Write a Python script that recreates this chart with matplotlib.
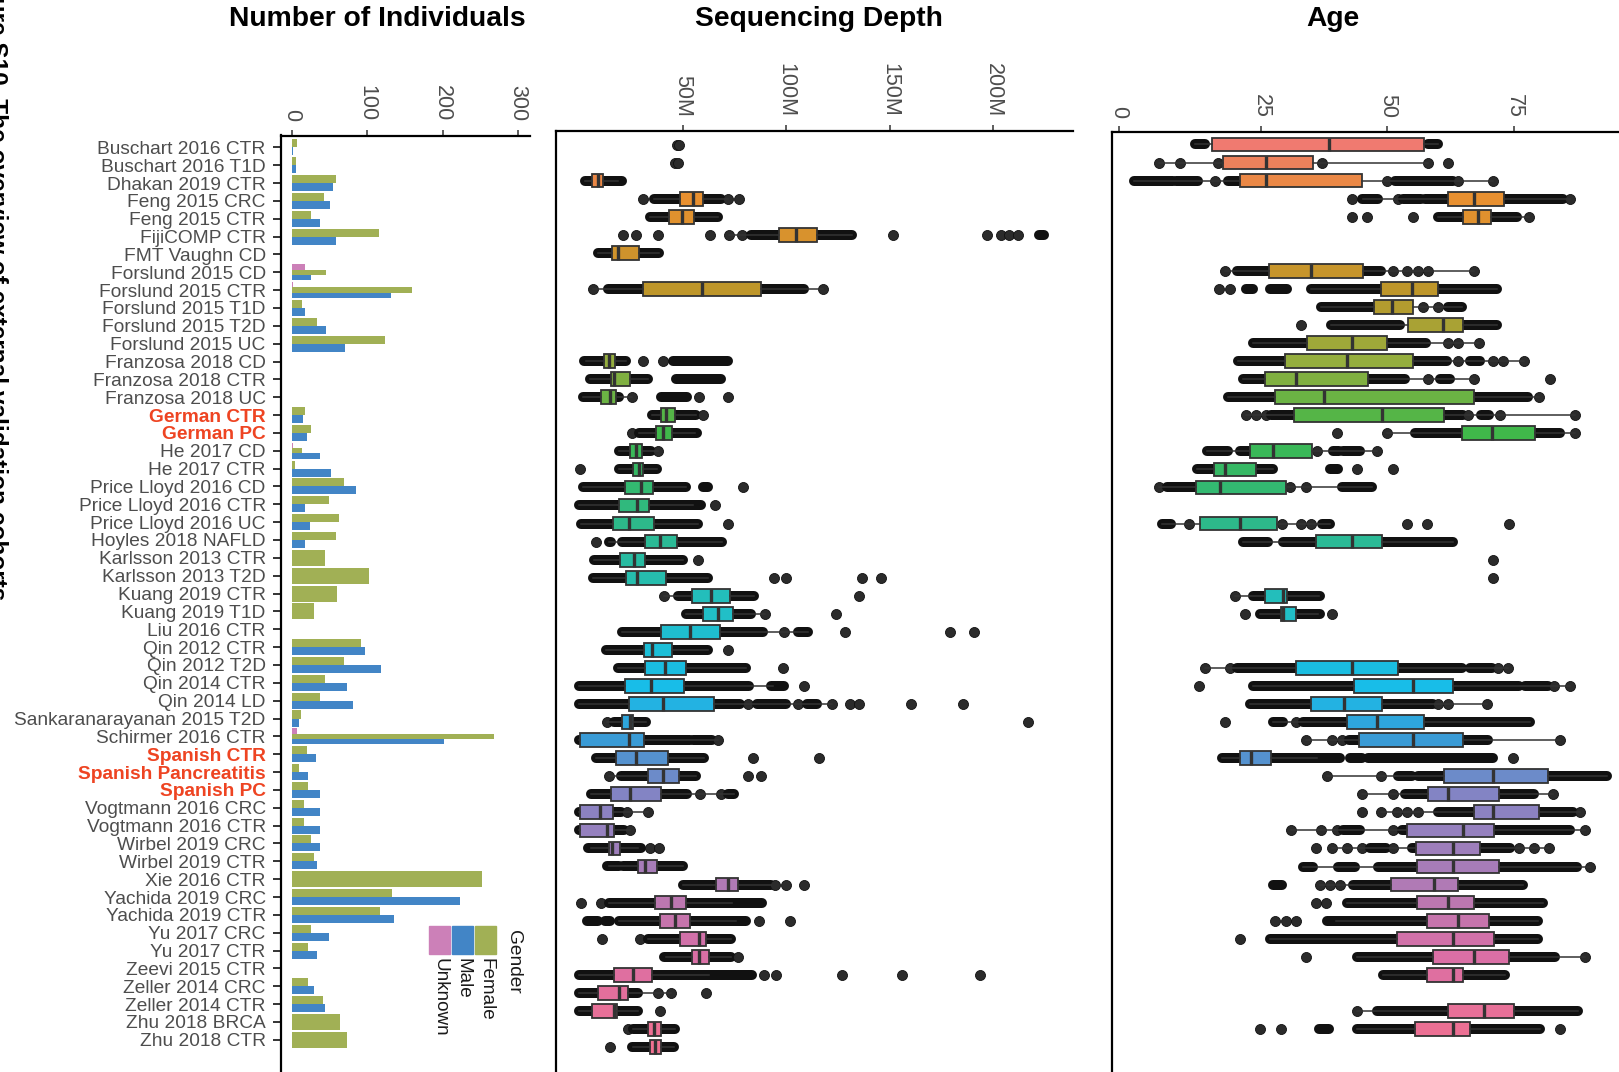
import numpy as np
import matplotlib.pyplot as plt
from matplotlib.colors import LinearSegmentedColormap
from matplotlib.patches import Rectangle

cohorts = ["Buschart 2016 CTR", "Buschart 2016 T1D", "Dhakan 2019 CTR", "Feng 2015 CRC",
           "Feng 2015 CTR", "FijiCOMP CTR", "FMT Vaughn CD", "Forslund 2015 CD",
           "Forslund 2015 CTR", "Forslund 2015 T1D", "Forslund 2015 T2D", "Forslund 2015 UC",
           "Franzosa 2018 CD", "Franzosa 2018 CTR", "Franzosa 2018 UC", "German CTR",
           "German PC", "He 2017 CD", "He 2017 CTR", "Price Lloyd 2016 CD",
           "Price Lloyd 2016 CTR", "Price Lloyd 2016 UC", "Hoyles 2018 NAFLD",
           "Karlsson 2013 CTR", "Karlsson 2013 T2D", "Kuang 2019 CTR", "Kuang 2019 T1D",
           "Liu 2016 CTR", "Qin 2012 CTR", "Qin 2012 T2D", "Qin 2014 CTR", "Qin 2014 LD",
           "Sankaranarayanan 2015 T2D", "Schirmer 2016 CTR", "Spanish CTR",
           "Spanish Pancreatitis", "Spanish PC", "Vogtmann 2016 CRC", "Vogtmann 2016 CTR",
           "Wirbel 2019 CRC", "Wirbel 2019 CTR", "Xie 2016 CTR", "Yachida 2019 CRC",
           "Yachida 2019 CTR", "Yu 2017 CRC", "Yu 2017 CTR", "Zeevi 2015 CTR",
           "Zeller 2014 CRC", "Zeller 2014 CTR", "Zhu 2018 BRCA", "Zhu 2018 CTR"]
new_cohorts = ["German CTR", "German PC", "Spanish CTR", "Spanish Pancreatitis", "Spanish PC"]

# individuals per gender
n_unknown = [0, 0, 0, 0, 0, 0, 0, 18, 1, 0, 0, 0, 0, 0, 0, 0, 0, 1, 0, 0, 0, 0, 0, 0, 0, 0,
             0, 0, 0, 0, 0, 0, 0, 7, 0, 0, 0, 0, 0, 0, 0, 0, 0, 0, 0, 0, 0, 0, 0, 0, 0]
n_female = [7, 5, 58, 43, 26, 115, 0, 45, 160, 14, 34, 123, 0, 0, 0, 18, 26, 13, 4, 69, 49, 62,
            58, 44, 103, 60, 30, 0, 92, 69, 44, 38, 12, 268, 20, 9, 22, 16, 16, 25, 29, 252,
            133, 117, 26, 22, 0, 22, 41, 64, 73]
n_male = [1, 5, 54, 51, 38, 59, 0, 26, 131, 18, 46, 71, 0, 0, 0, 15, 20, 37, 52, 85, 18, 24,
          17, 0, 0, 0, 0, 0, 97, 118, 73, 81, 9, 202, 32, 21, 37, 38, 38, 37, 33, 0, 223, 135,
          49, 34, 0, 29, 44, 0, 0]

# sequencing depth (million reads): box (q1, median, q3) and observed values as (from, to) runs
depth_box = [None, None, (6.4, 8.9, 11.3), (48.6, 55.2, 59.9), (43.3, 49.6, 55.6),
             (96.3, 104.7, 114.7), (15.9, 18.5, 29.1), None, (30.8, 59.1, 87.8), None, None, None,
             (11.8, 14.5, 17.4), (15.5, 16.9, 24.3), (10.5, 15.0, 17.9), (39.5, 42.0, 46.5),
             (37.2, 40.4, 44.6), (24.6, 27.4, 30.3), (26.1, 28.7, 30.6), (22.2, 29.8, 35.7),
             (19.3, 27.9, 33.5), (16.4, 24.2, 36.2), (31.9, 38.8, 47.2), (19.5, 26.7, 31.7),
             (22.5, 27.7, 41.9), (54.3, 63.6, 72.8), (59.9, 66.8, 74.1), (39.5, 53.6, 68.0),
             (31.1, 35.4, 44.6), (31.6, 41.5, 51.7), (22.1, 34.6, 50.7), (24.2, 40.3, 65.2),
             (20.7, 24.6, 26.2), (0.5, 24.2, 31.1), (18.0, 27.4, 42.7), (33.0, 40.7, 48.0),
             (15.3, 24.6, 39.6), (0.5, 10.1, 16.3), (0.5, 13.2, 16.9), (14.2, 15.8, 19.8),
             (28.5, 31.7, 37.8), (66.0, 71.7, 76.8), (36.7, 44.3, 51.5), (39.0, 46.4, 53.6),
             (48.8, 58.0, 61.4), (54.4, 58.0, 62.6), (16.9, 25.8, 35.3), (8.9, 19.0, 23.8),
             (6.0, 16.9, 18.2), (33.3, 36.2, 39.5), (34.1, 36.7, 39.5)]
depth_pts = [
    [(47, 47), (48, 48)],
    [(46.5, 46.5), (47.5, 47.5)],
    [(2.9, 20.9)],
    [(30.8, 30.8), (36.2, 68.4), (72, 72), (77.3, 77.3)],
    [(34.1, 66.8)],
    [(21.3, 21.3), (27.4, 27.4), (38.3, 38.3), (63.1, 63.1), (72.5, 72.5), (78.4, 78.4),
     (82.9, 132), (151.7, 151.7), (197, 197), (203.7, 203.7), (207.7, 207.7),
     (211.8, 211.8), (222.2, 224.6)],
    [(9.3, 38.6)],
    [],
    [(6.8, 6.8), (14.1, 108.4), (117.6, 117.6)],
    [], [], [],
    [(2.4, 22.5), (30.6, 30.6), (40.3, 40.3), (45.1, 71.7)],
    [(5.3, 33), (46.7, 68.4)],
    [(1.6, 19.3), (25.7, 25.7), (39.5, 52), (58, 58), (72.1, 72.1)],
    [(35.4, 56.4), (59.6, 59.6)],
    [(25.4, 25.4), (29, 56.7)],
    [(19, 34.5), (38.3, 38.3)],
    [(0.3, 0.3), (19.3, 37.5)],
    [(1.6, 51.5), (59.6, 62), (79, 79)],
    [(0, 58.8), (65.5, 65.5)],
    [(0.8, 57.6), (72.1, 72.1)],
    [(8, 8), (14.5, 15.5), (20.9, 69.2)],
    [(7.2, 50.2), (57.2, 57.2)],
    [(6.9, 62), (94.2, 94.2), (99.8, 99.8), (136.6, 136.6), (146, 146)],
    [(41.1, 41.1), (47.5, 84.5), (135, 135)],
    [(51.5, 82.9), (89.7, 89.7), (124, 124)],
    [(20.9, 88.6), (99, 99), (105.5, 110.3), (128.3, 128.3), (179, 179), (190.8, 190.8)],
    [(12.9, 62), (71.7, 71.7)],
    [(18.5, 80.8), (98.6, 98.6)],
    [(0, 82), (92.6, 99), (108.4, 108.4)],
    [(0, 77.5), (81.7, 81.7), (85.8, 100), (105.8, 105.8), (109.9, 114.8), (122, 122),
     (131, 131), (135.3, 135.3), (160.2, 160.2), (185.2, 185.2)],
    [(13.2, 13.2), (16.9, 32.2), (216.9, 216.9)],
    [(0, 53.6), (55, 64), (67.2, 67.2)],
    [(8, 60.4), (84, 84), (116, 116)],
    [(14.5, 14.5), (20, 56.4), (81.6, 81.6), (87.9, 87.9)],
    [(5.6, 52.3), (58.3, 58.3), (68.4, 68.4), (72, 74.9)],
    [(0, 20.1), (23.3, 23.3), (33.3, 33.3)],
    [(0, 21.5), (24.5, 24.5)],
    [(4.3, 29.8), (34.1, 34.1), (38.6, 38.6)],
    [(13.2, 19), (21, 49.9)],
    [(49.9, 92.6), (94.7, 94.7), (99.8, 99.8), (108.7, 108.7)],
    [(0.8, 0.8), (10.5, 10.5), (14.5, 88.1)],
    [(4, 8.9), (12.5, 15), (19.3, 80.5), (87, 87), (102, 102)],
    [(10.8, 10.8), (29.3, 29.3), (33, 73.3)],
    [(41.1, 73.3), (76.5, 76.5)],
    [(0, 83.7), (89.4, 89.4), (95, 95), (126.9, 126.9), (155.7, 155.7), (193.4, 193.4)],
    [(0, 28.2), (38.2, 38.2), (44.3, 44.3), (61.2, 61.2)],
    [(0, 28.2), (39, 39)],
    [(23.8, 23.8), (25.8, 46.2)],
    [(15, 15), (25.4, 45.9)],
]

# age (years)
age_box = [(15.4, 38.5, 57.2), (17.4, 25.9, 35.2), (20.9, 25.9, 44.9), (61.9, 67.0, 73.1),
           (64.9, 67.8, 70.5), None, None, (26.6, 34.8, 45.2), (48.8, 54.8, 59.9),
           (47.3, 50.8, 55.1), (54.1, 61.0, 65.0), (34.0, 42.9, 50.0), (29.7, 41.9, 55.1),
           (25.8, 31.9, 46.2), (27.8, 37.5, 67.0), (31.6, 49.0, 61.2), (64.7, 70.6, 79.1),
           (22.8, 27.4, 35.0), (15.8, 17.9, 24.0), (12.1, 16.9, 29.9), None,
           (12.9, 20.9, 28.2), (35.9, 42.9, 49.0), None, None, (25.8, 29.3, 30.1),
           (29.0, 29.4, 31.9), None, None, (31.9, 42.9, 52.0), (43.4, 55.0, 63.0),
           (34.9, 41.5, 49.0), (42.0, 47.9, 57.2), (44.4, 55.0, 65.0), (20.9, 23.0, 27.0),
           (61.2, 70.9, 81.8), (58.1, 61.9, 72.0), (67.0, 70.9, 80.0), (53.9, 65.0, 71.1),
           (55.6, 63.0, 68.3), (55.8, 63.0, 72.1), (50.7, 59.1, 64.0), (55.8, 61.9, 67.0),
           (57.9, 64.0, 70.0), (51.8, 62.9, 71.0), (58.9, 67.0, 74.0), (57.9, 62.9, 65.0),
           None, (61.9, 69.0, 75.0), (55.4, 62.9, 66.4), None]
age_pts = [
    [(12, 13.9), (58.1, 60)],
    [(4.9, 4.9), (8.9, 8.9), (16.6, 16.6), (37, 37), (58.1, 58.1), (62, 62)],
    [(0, 7.7), (8.2, 12.6), (15.9, 15.9), (18.5, 20.9), (50, 50), (51.5, 63), (64, 64),
     (70.9, 70.9)],
    [(42.9, 42.9), (44.9, 48.2), (52, 52), (53.1, 56.7), (57.4, 61.9), (73.1, 84.7),
     (86.1, 86.1)],
    [(42.9, 42.9), (45.9, 45.9), (55, 55), (59.9, 75.5), (78, 78)],
    [], [],
    [(17.9, 17.9), (20.2, 26.6), (45.2, 48.8), (51, 51), (53.8, 53.8), (56, 56),
     (58.1, 58.1), (67, 67)],
    [(16.7, 16.7), (18.9, 18.9), (22, 23.5), (26.8, 30.1), (34.8, 48.8), (59.9, 71.6)],
    [(36.9, 47.3), (57, 57), (59.9, 59.9), (62, 64.7)],
    [(32.9, 32.9), (38.8, 52.5), (65, 71.6)],
    [(23.5, 34), (50, 57.7), (62, 62), (64, 64), (68, 68)],
    [(20.5, 29.7), (55.1, 61.7), (64, 64), (66.3, 68.3), (70.9, 70.9), (72.9, 72.9),
     (77, 77)],
    [(21.5, 25.8), (46.2, 53.5), (58.1, 58.1), (60.4, 62.3), (67, 67), (82.1, 82.1)],
    [(18.4, 27.8), (67, 77.8), (80, 80)],
    [(22, 22), (24, 24), (25.9, 25.9), (27, 31.6), (61.2, 65), (66, 66), (68.5, 70),
     (72.2, 72.2), (87, 87)],
    [(40, 40), (50, 50), (55.4, 64.7), (79.1, 84.1), (87, 87)],
    [(14.3, 18.5), (20.9, 22.8), (36, 36), (39.3, 40.5), (41.3, 44.6), (47.9, 47.9)],
    [(12.3, 15.8), (24, 27.4), (38.6, 40.3), (43.9, 43.9), (51, 51)],
    [(4.9, 4.9), (6.4, 12.1), (30.7, 30.7), (33.9, 33.9), (41, 46.9)],
    [],
    [(5.4, 7.3), (10.8, 10.8), (29.1, 29.1), (32.9, 32.9), (34.9, 34.9), (37, 38.6),
     (53.9, 53.9), (57.9, 57.9), (74, 74)],
    [(21.5, 26.4), (29.3, 35.9), (49, 63)],
    [(70.9, 70.9)],
    [(70.9, 70.9)],
    [(19.9, 19.9), (23.5, 36.7)],
    [(21.8, 21.8), (24.8, 36.7), (39, 39)],
    [], [],
    [(13.9, 13.9), (18.9, 18.9), (20.2, 64.7), (66.3, 70.6), (71.9, 71.9), (73.9, 73.9)],
    [(12.8, 12.8), (23.5, 75.9), (77.2, 81.8), (82.9, 82.9), (86.1, 86.1)],
    [(22.8, 59), (60, 60), (62, 62), (69.6, 69.6)],
    [(17.9, 17.9), (27.4, 29.3), (32, 32), (33.4, 78.2)],
    [(33.9, 33.9), (39, 39), (41, 41), (42.3, 69.9), (84.1, 84.1)],
    [(17.2, 40.6), (42.6, 44.9), (46.2, 70.9), (74.9, 74.9)],
    [(38, 38), (48.8, 48.8), (52.1, 54.8), (56, 93.3)],
    [(44.9, 44.9), (51, 51), (53.5, 58.1), (72, 79), (82.8, 82.8)],
    [(44.9, 44.9), (48.8, 48.8), (51.8, 51.8), (53.9, 53.9), (56, 56), (60, 86.7),
     (88, 88)],
    [(30.9, 30.9), (36.9, 36.9), (40, 40), (41.3, 44.6), (51, 51), (52.8, 86.1), (89, 89)],
    [(35.9, 35.9), (39, 39), (41.9, 41.9), (44.9, 44.9), (46.5, 49.8), (51, 51),
     (54.8, 74.2), (76, 76), (79, 79), (81.9, 81.9)],
    [(33.4, 35.3), (40.3, 43.6), (48.2, 87.4), (90, 90)],
    [(27.4, 29.1), (36.7, 36.7), (38.6, 38.6), (40.7, 40.7), (43.2, 76.8)],
    [(35.9, 35.9), (37.9, 37.9), (41.9, 80.8)],
    [(27.8, 27.8), (29.9, 29.9), (31.9, 31.9), (38, 79.8)],
    [(20.9, 20.9), (26.8, 79.8)],
    [(33.9, 33.9), (44, 83.1), (89, 89)],
    [(49.2, 73.2)],
    [],
    [(43.9, 43.9), (47.9, 87.7)],
    [(24.9, 24.9), (28.9, 28.9), (36.5, 38.5), (43.9, 80.1), (84.1, 84.1)],
    [],
]

gender_labels = ["Unknown", "Male", "Female"]
gender_colors = {"Unknown": "#CC80B8", "Male": "#4285C6", "Female": "#A1B055"}
depth_ticks = [50, 100, 150, 200]
age_ticks = [0, 25, 50, 75]

# cohort colour ramp, red -> orange -> olive -> green -> cyan -> blue -> lavender -> pink
ramp = LinearSegmentedColormap.from_list("cohort", [
    (0.00, "#F07A70"), (0.06, "#E8902F"), (0.16, "#BD962A"), (0.24, "#95AE3E"),
    (0.32, "#3DB84A"), (0.42, "#2DB98A"), (0.52, "#21BFC6"), (0.60, "#18BDE8"),
    (0.66, "#3A9AD6"), (0.72, "#8284C4"), (0.82, "#B07AB5"), (0.90, "#DA6FA5"),
    (1.00, "#F07090")])

plt.rcParams['font.family'] = ['Liberation Sans', 'DejaVu Sans']

W, H = 1619, 1072
fig = plt.figure(figsize=(W / 100, H / 100), dpi=100)
rows = np.arange(len(cohorts))
colors = [ramp(i / (len(cohorts) - 1)) for i in rows]


def add_panel(left, right, top, row0, step):
    ax = fig.add_axes([left / W, 0, (right - left) / W, 1 - top / H])
    ax.set_ylim((H - row0) / step, (top - row0) / step)
    for s in ('right', 'bottom'):
        ax.spines[s].set_visible(False)
    for s in ('left', 'top'):
        ax.spines[s].set_linewidth(1.6)
        ax.spines[s].set_color('black')
    ax.xaxis.set_ticks_position('top')
    ax.tick_params(axis='x', top=True, bottom=False, labeltop=True, labelbottom=False,
                   labelrotation=270, length=4, width=1.1, color='#333333',
                   labelcolor='#4D4D4D', labelsize=15.5, pad=6)
    return ax


def whiskers(q1, q3, pts):
    iqr = q3 - q1
    lo, hi = q1 - 1.5 * iqr, q3 + 1.5 * iqr
    lows = [max(a, lo) for a, b in pts if b >= lo]
    highs = [min(b, hi) for a, b in pts if a <= hi]
    return min(lows + [q1]), max(highs + [q3])


def draw_boxes(ax, boxes, pts):
    for i, runs in enumerate(pts):
        for a, b in runs:
            if b - a < 0.01:
                ax.plot(a, i, 'o', ms=7.2, mfc='#2b2b2b', mec='#111111', mew=0.6, zorder=2)
            else:
                ax.plot([a, b], [i, i], color='#111111', lw=7.2, solid_capstyle='round', zorder=2)
    stats, pos, cols = [], [], []
    for i, b in enumerate(boxes):
        if b is None:
            continue
        q1, med, q3 = b
        lo, hi = whiskers(q1, q3, pts[i])
        stats.append(dict(med=med, q1=q1, q3=q3, whislo=lo, whishi=hi, fliers=[]))
        pos.append(i)
        cols.append(colors[i])
    out = ax.bxp(stats, positions=pos, widths=0.76, orientation='horizontal',
                 patch_artist=True, showfliers=False, showcaps=False, manage_ticks=False,
                 boxprops=dict(edgecolor='#333333', linewidth=1.3),
                 whiskerprops=dict(color='#333333', linewidth=1.1),
                 medianprops=dict(color='#333333', linewidth=2.4, solid_capstyle='butt'),
                 zorder=3)
    for patch, c in zip(out['boxes'], cols):
        patch.set_facecolor(c)


# number of individuals, dodged by gender
ax1 = add_panel(281, 530, 135.5, 147.3, 17.85)
ax1.set_xlim(-14.3, 315.9)
for i in rows:
    groups = [(g, n) for g, n in (("Unknown", n_unknown[i]), ("Female", n_female[i]),
                                  ("Male", n_male[i])) if n > 0]
    if not groups:
        continue
    h = 0.9 / len(groups)
    for k, (g, n) in enumerate(groups):
        ax1.barh(i - 0.45 + h * (k + 0.5), n, height=h, color=gender_colors[g], zorder=2)
ax1.set_xticks([0, 100, 200, 300])
ax1.set_yticks(rows, cohorts)
ax1.tick_params(axis='y', length=5.5, width=1.4, color='#333333', labelcolor='#4D4D4D',
                labelsize=13.8, pad=5.5)
for lab in ax1.get_yticklabels():
    if lab.get_text() in new_cohorts:
        lab.set_color('#EE4422')
        lab.set_fontweight('bold')

# sequencing depth
ax2 = add_panel(555.7, 1073.4, 131, 144.5, 18.05)
ax2.set_xlim(-11.35, 238.7)
draw_boxes(ax2, depth_box, depth_pts)
ax2.set_xticks(depth_ticks, [f'{t}M' for t in depth_ticks])
ax2.set_yticks([])

# age
ax3 = add_panel(1111.7, 1619, 132, 144.5, 18.05)
ax3.set_xlim(-4.5, 95.75)
draw_boxes(ax3, age_box, age_pts)
ax3.set_xticks([-3.1, 25, 50, 75], [str(t) for t in age_ticks])
ax3.set_yticks([])

# titles, gender legend and figure caption in pixel coordinates
ov = fig.add_axes([0, 0, 1, 1])
ov.set_xlim(0, W)
ov.set_ylim(H, 0)
ov.axis('off')
for x, t in ((377, "Number of Individuals"), (819, "Sequencing Depth"), (1333, "Age")):
    ov.text(x, 19, t, ha='center', va='center', fontsize=20.3, fontweight='bold')

for k, g in enumerate(gender_labels):
    x0 = 429 + k * 23
    ov.add_patch(Rectangle((x0, 926), 21, 28, color=gender_colors[g]))
    ov.text(x0 + 10.5, 958, g, rotation=270, ha='center', va='top', fontsize=13.6,
            color='#1a1a1a')
ov.text(513, 930, "Gender", rotation=270, ha='center', va='top', fontsize=13.8,
        color='#1a1a1a')

ov.text(-4, -40, "Figure S10. The overview of external validation cohorts", rotation=270,
        ha='center', va='top', fontsize=17.6, fontweight='bold', clip_on=False)

fig.savefig('out.png', dpi=100)
